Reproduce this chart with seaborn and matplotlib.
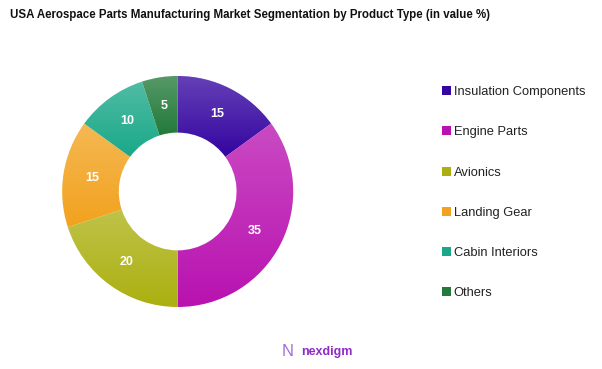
import numpy as np
import matplotlib
matplotlib.use("Agg")
import matplotlib.pyplot as plt
import seaborn as sns
from matplotlib.patches import Patch

categories = ["Insulation Components", "Engine Parts", "Avionics",
              "Landing Gear", "Cabin Interiors", "Others"]
values = [15, 35, 20, 15, 10, 5]
colors = ["#3405a0", "#b912b0", "#abb010", "#f2a21e", "#1aa888", "#237a3a"]
title = "USA Aerospace Parts Manufacturing Market Segmentation by Product Type (in value %)"

sns.set_theme(style="white")
plt.rcParams["font.family"] = ["Liberation Sans", "DejaVu Sans"]

W, H = 602, 369
fig = plt.figure(figsize=(W / 100, H / 100), dpi=100)
fig.patch.set_facecolor("white")

cx, cy, R = 177.7, 191.5, 115.5
ax = fig.add_axes([(cx - R) / W, (H - cy - R) / H, 2 * R / W, 2 * R / H])
wedges, texts = ax.pie(values, colors=colors, startangle=90, counterclock=False,
                       radius=1.0, wedgeprops=dict(width=0.49, edgecolor="none"))
ax.set_xlim(-1, 1)
ax.set_ylim(-1, 1)
ax.set_aspect("equal")
ax.axis("off")

# subtle vertical highlight per slice (lighter at top)
grad = np.linspace(0, 1, 256)
rgba = np.zeros((256, 1, 4))
rgba[:, 0, :3] = 1.0
rgba[:, 0, 3] = 0.24 * grad
for w in wedges:
    path = w.get_path().transformed(w.get_patch_transform())
    ext = path.get_extents()
    im = ax.imshow(rgba, extent=[ext.x0, ext.x1, ext.y0, ext.y1], origin="lower",
                   aspect="auto", zorder=w.get_zorder() + 0.1, interpolation="bilinear")
    im.set_clip_path(w)
ax.set_xlim(-1, 1)
ax.set_ylim(-1, 1)

# value labels
total = sum(values)
ang = 90.0
for v in values:
    mid = ang - v / total * 360 / 2
    ang -= v / total * 360
    r = 0.75
    ax.text(r * np.cos(np.radians(mid)), r * np.sin(np.radians(mid)), f"{v}",
            ha="center", va="center", color="white", fontsize=9,
            fontweight="bold", zorder=10)

fig.text(10 / W, 1 - 15 / H, title, ha="left", va="center",
         fontsize=8.3, fontweight="bold", color="#111111")

handles = [Patch(facecolor=c, edgecolor="none") for c in colors]
leg = fig.legend(handles, categories, loc="upper left",
                 bbox_to_anchor=(437 / W, 1 - 81 / H), frameon=False,
                 fontsize=9.3, handlelength=0.7, handleheight=0.7,
                 handletextpad=0.2, labelspacing=2.18, borderaxespad=0)
for t in leg.get_texts():
    t.set_color("#222222")

# logo
fig.text(288 / W, 1 - 352 / H, "N", ha="center", va="center", fontsize=12,
         color="#a070d8", fontweight="light")
fig.text(301 / W, 1 - 352 / H, "nexdigm", ha="left", va="center",
         fontsize=9, color="#8e2bc9", fontweight="bold")

fig.savefig("out.png", dpi=100, facecolor="white")
